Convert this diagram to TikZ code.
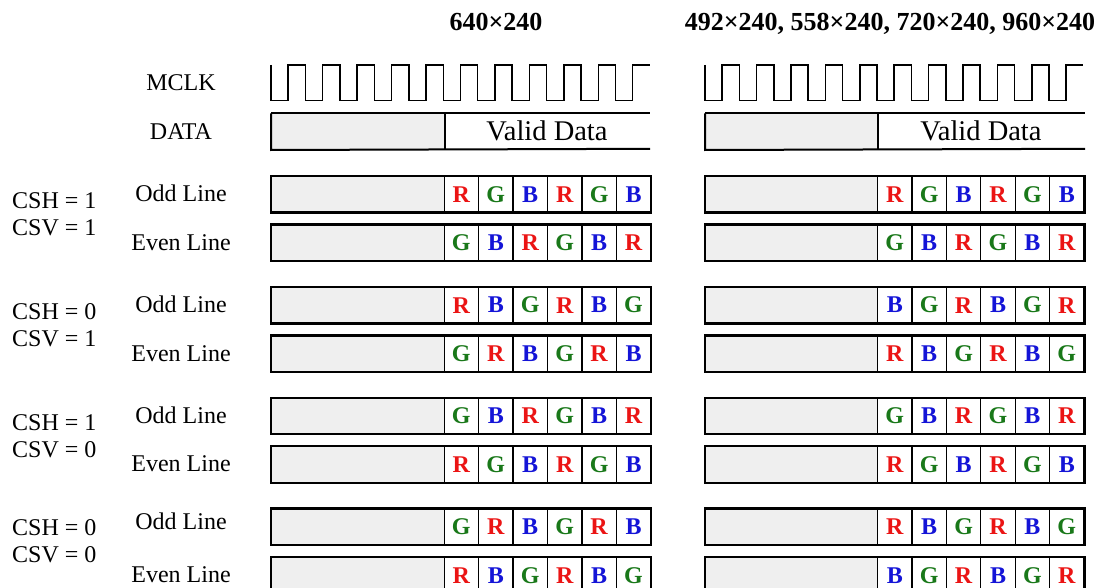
\documentclass[tikz,border=0pt]{standalone}
\usepackage{fontspec}
\setmainfont{Liberation Serif}
\definecolor{cR}{RGB}{235,20,20}
\definecolor{cG}{RGB}{25,120,25}
\definecolor{cB}{RGB}{20,20,215}
\definecolor{grayfill}{RGB}{239,239,239}
\tikzset{
  graybox/.style={draw=black, fill=grayfill, line width=1.2pt, inner sep=0pt, minimum height=35.5pt},
  cell/.style={draw=black, fill=white, line width=1.2pt, inner sep=0pt, minimum height=35.5pt,
    font=\fontsize{24}{24}\selectfont\bfseries},
  outline/.style={draw=black, line width=2pt},
  wave/.style={draw=black, line width=1.5pt, line join=miter},
  lbl/.style={font=\fontsize{24}{24}\selectfont, inner sep=0pt, anchor=base},
  cs/.style={font=\fontsize{24}{24}\selectfont, inner sep=0pt, anchor=base west},
  valid/.style={font=\fontsize{28.5}{28.5}\selectfont, inner sep=0pt, anchor=base},
  hdr/.style={font=\fontsize{26}{26}\selectfont\bfseries, inner sep=0pt, anchor=base},
}
\newcommand\rgbrow[6]{%
  \node[graybox, minimum width={#3-#2}, anchor=north west] (#1g) at (#2,#5) {};
  \foreach \ltr [count=\i] in {#6} {
    \node[cell, minimum width=#4, anchor=north west] (#1c\i) at ({#3+#4*(\i-1)},#5) {\textcolor{c\ltr}{\ltr}};
  }
  \draw[outline] (#1g.north west) rectangle (#1c6.south east);
}
\begin{document}
\begin{tikzpicture}[x=1pt, y=-1pt]
\useasboundingbox (0,0) rectangle (1111,588);
\clip (0,0) rectangle (1111,588);
\fill[white] (0,0) rectangle (1111,588);

% headers
\node[hdr] (h1) at (496,31) {640×240};
\node[hdr] (h2) at (890,31) {492×240, 558×240, 720×240, 960×240};

% left labels
\node[lbl] (mclk) at (181,91) {MCLK};
\node[lbl] (data) at (181,140) {DATA};

% clock waveforms
\draw[wave] (271,65) \foreach \k in {0,...,10}{ -- ({271+34.45*\k},65) -- ({271+34.45*\k},100.7) -- ({288.2+34.45*\k},100.7) -- ({288.2+34.45*\k},65) } -- (650,65);
\draw[wave] (705,65) \foreach \k in {0,...,10}{ -- ({705+34.4*\k},65) -- ({705+34.4*\k},100.7) -- ({722.2+34.4*\k},100.7) -- ({722.2+34.4*\k},65) } -- (1083.4,65);

% data rows
\node[graybox, minimum width=173pt, anchor=north west] (Ld) at (271,113.3) {};
\coordinate (Ldt) at (650,113.3);
\coordinate (Ldb) at (650,148.8);
\draw[outline] (Ld.north west) -- (Ld.south west) -- (Ldb);
\draw[outline] (Ld.north west) -- (Ldt);
\draw[line width=1.2pt] (Ld.north east) -- (Ld.south east);
\node[valid] (Lv) at (547,140.5) {Valid Data};

\node[graybox, minimum width=172pt, anchor=north west] (Rd) at (705,113.3) {};
\coordinate (Rdt) at (1085,113.3);
\coordinate (Rdb) at (1085,148.8);
\draw[outline] (Rd.north west) -- (Rd.south west) -- (Rdb);
\draw[outline] (Rd.north west) -- (Rdt);
\draw[line width=1.2pt] (Rd.north east) -- (Rd.south east);
\node[valid] (Rv) at (981,140.5) {Valid Data};

% group 1
\rgbrow{La}{271}{443.5}{34.45}{176}{R,G,B,R,G,B}
\rgbrow{Lb}{271}{443.5}{34.45}{224.5}{G,B,R,G,B,R}
\rgbrow{Ra}{705}{877}{34.4}{176}{R,G,B,R,G,B}
\rgbrow{Rb}{705}{877}{34.4}{224.5}{G,B,R,G,B,R}
% group 2
\rgbrow{Lc}{271}{443.5}{34.45}{286.8}{R,B,G,R,B,G}
\rgbrow{Ldd}{271}{443.5}{34.45}{335.3}{G,R,B,G,R,B}
\rgbrow{Rc}{705}{877}{34.4}{286.8}{B,G,R,B,G,R}
\rgbrow{Rdd}{705}{877}{34.4}{335.3}{R,B,G,R,B,G}
% group 3
\rgbrow{Le}{271}{443.5}{34.45}{397.6}{G,B,R,G,B,R}
\rgbrow{Lf}{271}{443.5}{34.45}{446.1}{R,G,B,R,G,B}
\rgbrow{Re}{705}{877}{34.4}{397.6}{G,B,R,G,B,R}
\rgbrow{Rf}{705}{877}{34.4}{446.1}{R,G,B,R,G,B}
% group 4
\rgbrow{Lg}{271}{443.5}{34.45}{508.4}{G,R,B,G,R,B}
\rgbrow{Lh}{271}{443.5}{34.45}{556.9}{R,B,G,R,B,G}
\rgbrow{Rg}{705}{877}{34.4}{508.4}{R,B,G,R,B,G}
\rgbrow{Rh}{705}{877}{34.4}{556.9}{B,G,R,B,G,R}

% row labels
\node[lbl] (o1) at (181,201.7) {Odd Line};
\node[lbl] (e1) at (181,250.2) {Even Line};
\node[lbl] (o2) at (181,312.5) {Odd Line};
\node[lbl] (e2) at (181,361) {Even Line};
\node[lbl] (o3) at (181,423.3) {Odd Line};
\node[lbl] (e3) at (181,471.8) {Even Line};
\node[lbl] (o4) at (181,529) {Odd Line};
\node[lbl] (e4) at (181,582.6) {Even Line};

\node[cs] (csh1) at (12,208.7) {CSH = 1};
\node[cs] (csv1) at (12,235.7) {CSV = 1};
\node[cs] (csh2) at (12,319.5) {CSH = 0};
\node[cs] (csv2) at (12,346.5) {CSV = 1};
\node[cs] (csh3) at (12,430.3) {CSH = 1};
\node[cs] (csv3) at (12,457.3) {CSV = 0};
\node[cs] (csh4) at (12,535) {CSH = 0};
\node[cs] (csv4) at (12,562) {CSV = 0};
\end{tikzpicture}
\end{document}
